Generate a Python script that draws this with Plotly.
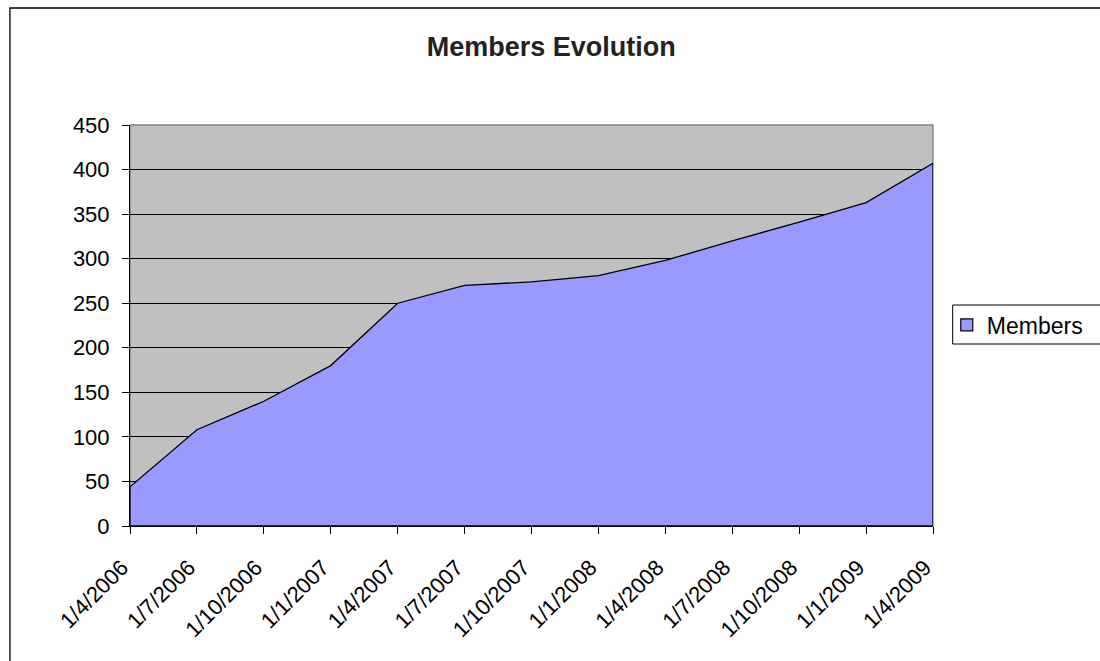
import plotly.graph_objects as go

categories = ["1/4/2006", "1/7/2006", "1/10/2006", "1/1/2007", "1/4/2007", "1/7/2007",
              "1/10/2007", "1/1/2008", "1/4/2008", "1/7/2008", "1/10/2008", "1/1/2009", "1/4/2009"]
members = [44, 108, 140, 180, 250, 270, 274, 281, 298, 320, 341, 363, 407]
y_ticks = [0, 50, 100, 150, 200, 250, 300, 350, 400, 450]

FONT = "Liberation Sans, Arial, sans-serif"
FILL = "#9999FF"

# closed polygon so the area gets an outline on all sides (as in the original)
poly_x = categories + [categories[-1], categories[0], categories[0]]
poly_y = members + [0, 0, members[0]]

fig = go.Figure()
fig.add_trace(go.Scatter(
    x=poly_x, y=poly_y, mode="lines", fill="toself", fillcolor=FILL,
    line=dict(color="black", width=1.3), showlegend=False, hoverinfo="skip"))
fig.add_trace(go.Scatter(
    x=[None], y=[None], mode="markers", name="Members",
    marker=dict(symbol="square", size=12, color=FILL, line=dict(color="black", width=1.2))))

L, R, T, B = 130, 154, 125, 135
W, H = 1100, 661
pw, ph = W - L - R, H - T - B

def px2x(px):
    return (px - L) / pw

def py2y(py):
    return (H - B - py) / ph

fig.update_layout(
    width=W, height=H,
    margin=dict(l=L, r=R, t=T, b=B),
    paper_bgcolor="white", plot_bgcolor="#C0C0C0",
    font=dict(family=FONT, color="black", size=22),
    title=dict(text="<b>Members Evolution</b>", x=px2x(558), xref="paper", xanchor="center",
               y=1 - 47 / H, yref="container", yanchor="middle",
               font=dict(family=FONT, size=27, color="#222222")),
    showlegend=True,
    legend=dict(x=px2x(960), xanchor="left", y=py2y(325), yanchor="middle",
                bgcolor="rgba(0,0,0,0)", borderwidth=0,
                font=dict(family=FONT, size=23, color="black")),
    xaxis=dict(type="category", categoryorder="array", categoryarray=categories,
               range=[0, len(categories) - 1], showgrid=False,
               showline=True, linecolor="black", linewidth=1,
               ticks="outside", ticklen=7, tickcolor="black", tickwidth=1,
               tickangle=-45, ticklabelstandoff=12, ticklabelshift=-8,
               tickfont=dict(family=FONT, size=22, color="black"),
               zeroline=False),
    yaxis=dict(range=[0, 450], tickvals=y_ticks, showgrid=True, gridcolor="black", gridwidth=1,
               showline=True, linecolor="black", linewidth=1,
               ticks="outside", ticklen=7, tickcolor="black", tickwidth=1,
               ticklabelstandoff=8,
               tickfont=dict(family=FONT, size=22, color="black"), zeroline=False),
    shapes=[
        # plot-area border (gray top/right)
        dict(type="rect", xref="paper", yref="paper", x0=0, x1=1, y0=0, y1=1,
             line=dict(color="#808080", width=1.3), fillcolor="rgba(0,0,0,0)", layer="between"),
        # outer chart border
        dict(type="rect", xref="paper", yref="paper", x0=px2x(8), x1=px2x(1120),
             y0=py2y(680), y1=py2y(8), line=dict(color="black", width=1.3),
             fillcolor="rgba(0,0,0,0)", layer="above"),
        # legend box
        dict(type="rect", xref="paper", yref="paper", x0=px2x(966), x1=px2x(1120),
             y0=py2y(344), y1=py2y(305), line=dict(color="black", width=1),
             fillcolor="rgba(0,0,0,0)", layer="above"),
    ],
)

fig.write_html("out.html", config={"displayModeBar": False},
               post_script="document.body.style.margin='0';document.body.style.overflow='hidden';")
